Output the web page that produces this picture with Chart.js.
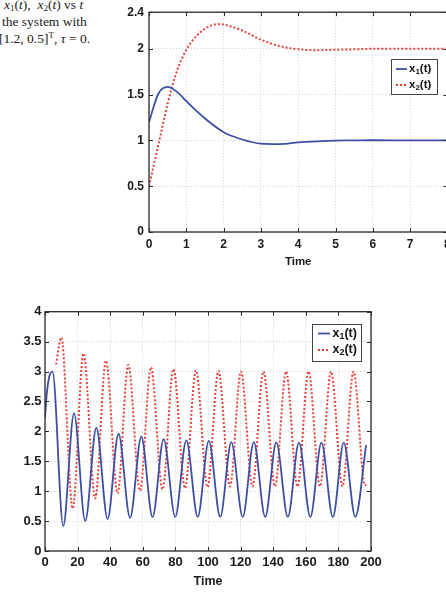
<!DOCTYPE html>
<html><head><meta charset="utf-8">
<script src="https://cdn.jsdelivr.net/npm/chart.js@4.4.0/dist/chart.umd.min.js"></script>
<style>
html,body{margin:0;padding:0;width:446px;height:596px;overflow:hidden;background:#fff;position:relative}
.cap{position:absolute;font-family:"Liberation Serif","Times New Roman",serif;font-size:13.5px;line-height:14px;color:#222;white-space:nowrap}
.cap i{font-style:italic}
.cap sub{font-size:9px;vertical-align:-2px;line-height:0}
.cap sup{font-size:9px;vertical-align:5px;line-height:0}
#c1{position:absolute;left:100px;top:0}
#c2{position:absolute;left:0;top:290px}
</style></head>
<body>
<div class="cap" style="left:4px;top:-2px"><i>x</i><sub>1</sub>(<i>t</i>), &nbsp;<i>x</i><sub>2</sub>(<i>t</i>) vs <i>t</i></div>
<div class="cap" style="left:2px;top:15px">the system with</div>
<div class="cap" style="left:-1px;top:32px">[1.2, 0.5]<sup>T</sup>, <i>τ</i> = 0.</div>
<canvas id="c1" width="370" height="280"></canvas>
<canvas id="c2" width="446" height="306"></canvas>
<script>
// ---------- data: top chart ----------
const topTime = [0, 0.25, 0.5, 0.75, 1, 1.25, 1.5, 1.85, 2, 2.5, 3, 3.5, 4, 4.5, 5, 5.5, 6, 7, 8];
const topX1   = [1.2, 1.51, 1.585, 1.53, 1.43, 1.33, 1.24, 1.13, 1.09, 1.01, 0.965, 0.96, 0.978, 0.99, 0.998, 1.0, 1.002, 1.0, 1.0];
const topX2   = [0.5, 0.95, 1.4, 1.76, 1.99, 2.13, 2.22, 2.27, 2.265, 2.2, 2.1, 2.03, 1.995, 1.985, 1.99, 1.995, 2.0, 2.0, 2.0];
const topYTicks  = [0, 0.5, 1, 1.5, 2, 2.4];
const topYLabels = ['0', '0.5', '1', '1.5', '2', '2.4'];
// ---------- data: bottom chart ----------
const botX1Time = [0, 1, 2.5, 4.6, 11.2, 17.8, 24.7, 31.5, 38.4, 45.1, 52.2, 59.1, 66, 72.8, 79.9, 86.7, 93.7, 100.5, 107.5, 114.3, 121.3, 128.1, 135.1, 141.9, 149, 155.8, 162.8, 169.6, 176.6, 183.3, 190.4, 197];
const botX1     = [2.22, 2.6, 2.9, 3.0, 0.42, 2.30, 0.50, 2.06, 0.535, 1.96, 0.555, 1.91, 0.565, 1.87, 0.57, 1.85, 0.57, 1.84, 0.57, 1.82, 0.57, 1.82, 0.57, 1.815, 0.57, 1.81, 0.57, 1.81, 0.57, 1.81, 0.57, 1.77];
const botX2Time = [6.8, 10.0, 17.0, 23.6, 30.8, 37.4, 44.5, 51.1, 58.3, 65, 72.1, 78.8, 85.9, 92.6, 99.7, 106.4, 113.5, 120.2, 127.3, 134, 141.1, 147.9, 154.9, 161.7, 168.7, 175.5, 182.5, 189.3, 196.3, 197.2];
const botX2     = [3.12, 3.57, 0.71, 3.30, 0.88, 3.18, 0.965, 3.11, 1.01, 3.07, 1.03, 3.04, 1.05, 3.02, 1.07, 3.01, 1.08, 3.0, 1.08, 3.0, 1.08, 3.0, 1.08, 3.0, 1.08, 3.0, 1.08, 3.0, 1.1, 1.11];
const botYTicks  = [0, 0.5, 1, 1.5, 2, 2.5, 3, 3.5, 4];
const botYLabels = ['0', '0.5', '1', '1.5', '2', '2.5', '3', '3.5', '4'];
const seriesLabels = ['x1(t)', 'x2(t)'];

const BLUE = '#3d4fa3', RED = '#e5403a';
const pts = (ts, vs) => ts.map((t, i) => ({x: t, y: vs[i]}));

const framePlugin = {
  id: 'frame',
  afterDatasetsDraw(chart) {
    const {ctx, chartArea: a, scales: {x, y}} = chart;
    ctx.save();
    ctx.strokeStyle = '#2a2a2a'; ctx.lineWidth = 1;
    ctx.beginPath();
    x.ticks.forEach(t => { const p = Math.round(x.getPixelForValue(t.value)) + 0.5;
      ctx.moveTo(p, a.bottom); ctx.lineTo(p, a.bottom - 4); ctx.moveTo(p, a.top); ctx.lineTo(p, a.top + 4); });
    y.ticks.forEach(t => { const p = Math.round(y.getPixelForValue(t.value)) + 0.5;
      ctx.moveTo(a.left, p); ctx.lineTo(a.left + 4, p); ctx.moveTo(a.right, p); ctx.lineTo(a.right - 4, p); });
    ctx.stroke();
    ctx.lineWidth = 1.3;
    ctx.strokeRect(a.left, a.top, a.right - a.left, a.bottom - a.top);
    ctx.restore();
  }
};
const legendPlugin = {
  id: 'legendBox',
  afterDraw(chart, args, o) {
    const ctx = chart.ctx; ctx.save();
    ctx.fillStyle = '#fff'; ctx.fillRect(o.x, o.y, o.w, o.h);
    ctx.strokeStyle = '#444'; ctx.lineWidth = 1; ctx.strokeRect(o.x + 0.5, o.y + 0.5, o.w, o.h);
    chart.data.datasets.forEach((ds, i) => {
      const cy = o.y + o.row0 + i * o.gap;
      ctx.setLineDash(ds.borderDash || []); ctx.strokeStyle = ds.borderColor; ctx.lineWidth = ds.borderWidth;
      ctx.beginPath(); ctx.moveTo(o.x + o.l0, cy); ctx.lineTo(o.x + o.l1, cy); ctx.stroke();
      ctx.setLineDash([]);
      const m = ds.label.match(/^(\D+)(\d)(.*)$/);
      ctx.fillStyle = '#111'; ctx.textBaseline = 'middle';
      let tx = o.x + o.tx;
      ctx.font = 'bold ' + o.fs + 'px "Liberation Sans", Arial, sans-serif';
      ctx.fillText(m[1], tx, cy); tx += ctx.measureText(m[1]).width;
      ctx.font = 'bold ' + Math.round(o.fs * 0.7) + 'px "Liberation Sans", Arial, sans-serif';
      ctx.fillText(m[2], tx, cy + 3); tx += ctx.measureText(m[2]).width;
      ctx.font = 'bold ' + o.fs + 'px "Liberation Sans", Arial, sans-serif';
      ctx.fillText(m[3], tx, cy);
    });
    ctx.restore();
  }
};

function makeChart(id, cfg) {
  const font = {family: '"Liberation Sans", Arial, sans-serif', weight: 'bold', size: cfg.tickSize};
  return new Chart(document.getElementById(id), {
    type: 'line',
    data: {datasets: [
      {label: seriesLabels[0], data: cfg.d1, borderColor: BLUE, borderWidth: 1.8, pointRadius: 0, cubicInterpolationMode: 'monotone', fill: false},
      {label: seriesLabels[1], data: cfg.d2, borderColor: RED, borderWidth: 2, borderDash: [2, 2], pointRadius: 0, cubicInterpolationMode: 'monotone', fill: false}
    ]},
    options: {
      responsive: false, animation: false, devicePixelRatio: 1, events: [],
      layout: {padding: cfg.pad},
      plugins: {legend: {display: false}, tooltip: {enabled: false}, legendBox: cfg.legend},
      scales: {
        x: {type: 'linear', min: cfg.xmin, max: cfg.xmax, ticks: {stepSize: cfg.xstep, font, color: '#1a1a1a', padding: cfg.xpad, maxRotation: 0},
            grid: {color: '#cfcfcf', lineWidth: 1, drawTicks: false}, border: {display: false, dash: [1, 2]},
            title: {display: true, text: 'Time', font: {family: font.family, weight: 'bold', size: cfg.titleSize}, color: '#1a1a1a', padding: {top: 0, bottom: cfg.titlePad}},
            afterFit: s => { s.height = cfg.xh; }},
        y: {type: 'linear', min: cfg.ymin, max: cfg.ymax,
            ticks: {font, color: '#1a1a1a', padding: cfg.ypad, callback: (v) => { const k = cfg.yticks.indexOf(v); return k >= 0 ? cfg.ylabels[k] : ''; }},
            afterBuildTicks: s => { s.ticks = cfg.yticks.map(v => ({value: v})); },
            grid: {color: '#cfcfcf', lineWidth: 1, drawTicks: false}, border: {display: false, dash: [1, 2]},
            afterFit: s => { s.width = cfg.yw; }}
      }
    },
    plugins: [framePlugin, legendPlugin]
  });
}

makeChart('c1', {
  d1: pts(topTime, topX1), d2: pts(topTime, topX2),
  pad: {top: 12, right: 22.6, left: 0, bottom: 0},
  xmin: 0, xmax: 8, xstep: 1, ymin: 0, ymax: 2.4, yticks: topYTicks, ylabels: topYLabels,
  tickSize: 12, titleSize: 11.5, titlePad: 11, xpad: 5, ypad: 5, xh: 48, yw: 49,
  legend: {x: 291, y: 59, w: 46, h: 35, row0: 10, gap: 16, l0: 5, l1: 16, tx: 18, fs: 11.5}
});
makeChart('c2', {
  d1: pts(botX1Time, botX1), d2: pts(botX2Time, botX2),
  pad: {top: 21.7, right: 75, left: 0, bottom: 0},
  xmin: 0, xmax: 200, xstep: 20, ymin: 0, ymax: 4, yticks: botYTicks, ylabels: botYLabels,
  tickSize: 13, titleSize: 12.5, titlePad: 6.5, xpad: 4, ypad: 3.5, xh: 45, yw: 45,
  legend: {x: 312, y: 34, w: 49, h: 37, row0: 9.5, gap: 16.5, l0: 6, l1: 18, tx: 20.5, fs: 12.5}
});
</script>
</body></html>
